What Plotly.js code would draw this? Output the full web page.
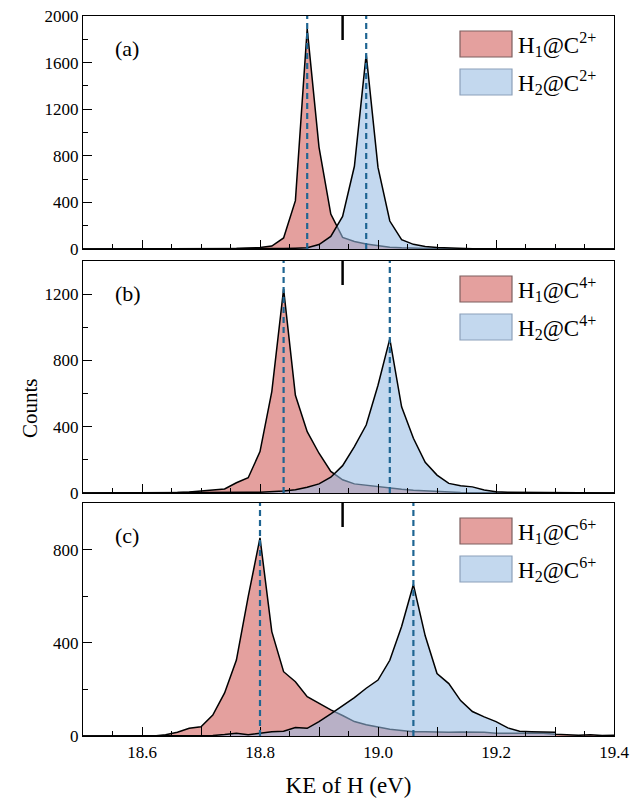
<!DOCTYPE html>
<html>
<head>
<meta charset="utf-8">
<script src="https://cdn.plot.ly/plotly-3.0.1.min.js"></script>
<style>html,body{margin:0;padding:0;background:#fff}#chart{width:641px;height:800px}</style>
</head>
<body>
<div id="chart"></div>
<script>
// ---- data ----
const energy = [18.50,18.52,18.54,18.56,18.58,18.60,18.62,18.64,18.66,18.68,
                18.70,18.72,18.74,18.76,18.78,18.80,18.82,18.84,18.86,18.88,
                18.90,18.92,18.94,18.96,18.98,19.00,19.02,19.04,19.06,19.08,
                19.10,19.12,19.14,19.16,19.18,19.20,19.22,19.24,19.26,19.28,
                19.30,19.32,19.34,19.36,19.38,19.40];

// panel (a)
const h1C2 = [0,0,0,0,0,0,0,0,0,1,
              1,2,3,5,8,12,25,95,415,1890,
              875,300,100,65,42,26,16,10,6,4,
              3,2,2,1,1,0,0,0,0,0,
              0,0,0,0,0,0];
const h2C2 = [0,0,0,0,0,0,0,0,0,0,
              0,1,1,2,2,3,4,5,7,10,
              38,108,280,710,1670,700,240,80,40,22,
              12,7,4,3,2,1,1,0,0,0,
              0,0,0,0,0,0];
// panel (b)
const h1C4 = [0,0,0,0,0,1,1,2,3,6,
              12,16,24,62,92,250,612,1230,590,370,
              240,130,80,55,46,38,28,22,16,12,
              8,5,3,2,1,0,0,0,0,0,
              0,0,0,0,0,0];
const h2C4 = [0,0,0,0,0,0,0,0,0,0,
              1,2,2,3,4,5,8,12,20,35,
              55,95,165,280,410,650,930,520,330,185,
              108,58,44,37,18,8,5,4,3,2,
              3,2,1,1,0,0];
// panel (c)
const h1C6 = [0,0,0,0,0,0,0,5,16,33,
              40,90,185,326,598,850,448,276,233,169,
              140,112,88,62,48,38,29,24,18,18,
              16,16,17,18,16,12,12,12,12,12,
              8,4,3,5,2,3];
const h2C6 = [0,0,0,0,0,0,0,0,0,0,
              0,2,6,12,5,12,18,20,36,33,
              62,95,130,165,205,240,325,470,650,430,
              268,225,152,105,82,62,35,20,18,17,
              16];

const peaksA = [18.88, 18.98];
const peaksB = [18.84, 19.02];
const peaksC = [18.80, 19.06];
const markerEnergy = 18.94;

const panelLabels = ['(a)', '(b)', '(c)'];
const legendH1 = ['H<sub>1</sub>@C<sup>2+</sup>', 'H<sub>1</sub>@C<sup>4+</sup>', 'H<sub>1</sub>@C<sup>6+</sup>'];
const legendH2 = ['H<sub>2</sub>@C<sup>2+</sup>', 'H<sub>2</sub>@C<sup>4+</sup>', 'H<sub>2</sub>@C<sup>6+</sup>'];

const xTickVals = [18.5, 18.6, 18.7, 18.8, 18.9, 19.0, 19.1, 19.2, 19.3, 19.4];
const xTickText = ['', '18.6', '', '18.8', '', '19.0', '', '19.2', '', '19.4'];
const yRanges = [[0, 2000], [0, 1400], [0, 1000]];

// ---- styling ----
const RED_FILL = 'rgb(228,160,158)';
const BLUE_FILL = 'rgba(152,188,228,0.58)';
const DASH_COLOR = '#1f6592';
const FONT = 'Liberation Serif';
const TICK_SIZE = 17;
const TITLE_SIZE = 23;

const panels = [
  {h1: h1C2, h2: h2C2, x2: energy, peaks: peaksA},
  {h1: h1C4, h2: h2C4, x2: energy, peaks: peaksB},
  {h1: h1C6, h2: h2C6, x2: energy.slice(0, h2C6.length), peaks: peaksC}
];
const domains = [[0.6764, 1], [0.3375, 0.6597], [0, 0.3236]];
const PLOT_W = 531;

const traces = [];
const shapes = [];
const annotations = [];
const layout = {
  width: 641, height: 800,
  margin: {l: 83, r: 27, t: 16, b: 64},
  showlegend: false,
  paper_bgcolor: '#fff', plot_bgcolor: '#fff',
  font: {family: FONT, size: TICK_SIZE, color: '#000'}
};

panels.forEach((p, i) => {
  const s = i === 0 ? '' : String(i + 1);
  const xa = 'x' + s, ya = 'y' + s;
  const panelH = (domains[i][1] - domains[i][0]) * 720;
  traces.push({
    x: energy, y: p.h1, xaxis: xa, yaxis: ya, type: 'scatter', mode: 'lines',
    fill: 'tozeroy', fillcolor: RED_FILL, line: {color: '#000', width: 1.5},
    name: legendH1[i], hoverinfo: 'x+y'
  });
  traces.push({
    x: p.x2, y: p.h2, xaxis: xa, yaxis: ya, type: 'scatter', mode: 'lines',
    fill: 'tozeroy', fillcolor: BLUE_FILL, line: {color: '#000', width: 1.5},
    name: legendH2[i], hoverinfo: 'x+y'
  });
  layout['xaxis' + s] = {
    anchor: ya, domain: [0, 1], range: [18.5, 19.4],
    tickmode: 'array', tickvals: xTickVals, ticktext: xTickText,
    ticks: 'inside', ticklen: 9, tickwidth: 1.3, tickcolor: '#000',
    minor: {dtick: 0.05, tick0: 18.5, ticks: 'inside', ticklen: 5, tickwidth: 1.2, tickcolor: '#000', showgrid: false},
    showticklabels: i === 2,
    tickfont: {family: FONT, size: TICK_SIZE, color: '#000'},
    showline: true, mirror: true, linecolor: '#000', linewidth: 1.4,
    showgrid: false, zeroline: false, fixedrange: true
  };
  layout['yaxis' + s] = {
    anchor: xa, domain: domains[i], range: yRanges[i],
    dtick: 400, tick0: 0,
    ticks: 'inside', ticklen: 9, tickwidth: 1.3, tickcolor: '#000',
    minor: {dtick: 200, ticks: 'inside', ticklen: 5, tickwidth: 1.2, tickcolor: '#000', showgrid: false},
    tickfont: {family: FONT, size: TICK_SIZE, color: '#000'},
    showline: true, mirror: true, linecolor: '#000', linewidth: 1.4,
    showgrid: false, zeroline: false, fixedrange: true
  };
  // dashed peak lines
  p.peaks.forEach(pk => {
    shapes.push({type: 'line', xref: xa, yref: ya + ' domain', x0: pk, x1: pk, y0: 0, y1: 1,
      line: {color: DASH_COLOR, width: 2.2, dash: '6px,4px'}, layer: 'above'});
  });
  // short marker line at top
  shapes.push({type: 'line', xref: xa, yref: ya + ' domain', x0: markerEnergy, x1: markerEnergy,
    y0: 1, y1: 1 - 24 / panelH, line: {color: '#000', width: 2.5}, layer: 'above'});
  // legend swatches
  const sx0 = (460 - 83) / PLOT_W, sx1 = (512 - 83) / PLOT_W;
  shapes.push({type: 'rect', xref: xa + ' domain', yref: ya + ' domain', x0: sx0, x1: sx1,
    y0: 1 - 41 / panelH, y1: 1 - 15 / panelH, fillcolor: RED_FILL,
    line: {color: 'rgb(125,95,95)', width: 1.2}, layer: 'above'});
  shapes.push({type: 'rect', xref: xa + ' domain', yref: ya + ' domain', x0: sx0, x1: sx1,
    y0: 1 - 79 / panelH, y1: 1 - 53 / panelH, fillcolor: 'rgb(195,216,238)',
    line: {color: 'rgb(140,160,185)', width: 1.2}, layer: 'above'});
  annotations.push({xref: xa + ' domain', yref: ya + ' domain', x: (516 - 83) / PLOT_W, y: 1 - 28 / panelH,
    xanchor: 'left', yanchor: 'middle', showarrow: false, text: legendH1[i],
    font: {family: FONT, size: 23, color: '#000'}});
  annotations.push({xref: xa + ' domain', yref: ya + ' domain', x: (516 - 83) / PLOT_W, y: 1 - 66 / panelH,
    xanchor: 'left', yanchor: 'middle', showarrow: false, text: legendH2[i],
    font: {family: FONT, size: 23, color: '#000'}});
  // panel label
  annotations.push({xref: xa + ' domain', yref: ya + ' domain', x: (113 - 83) / PLOT_W, y: 1 - 32 / panelH,
    xanchor: 'left', yanchor: 'middle', showarrow: false, text: panelLabels[i],
    font: {family: FONT, size: 22, color: '#000'}});
});

layout.xaxis3.title = {text: 'KE of H (eV)', font: {family: FONT, size: TITLE_SIZE, color: '#000'}, standoff: 16};
annotations.push({xref: 'paper', yref: 'paper', x: (30 - 83) / PLOT_W, y: (736 - 408) / 720,
  xanchor: 'center', yanchor: 'middle', textangle: -90, showarrow: false, text: 'Counts',
  font: {family: FONT, size: 21, color: '#000'}});

layout.shapes = shapes;
layout.annotations = annotations;

Plotly.newPlot('chart', traces, layout, {displayModeBar: false, responsive: false}).then(gd => {
  // make sure axis texts carry an explicit font family and size
  gd.querySelectorAll('.xtick text, .ytick text').forEach(t => {
    t.setAttribute('font-family', FONT);
    t.setAttribute('font-size', TICK_SIZE);
    t.style.fontFamily = FONT;
    t.style.fontSize = TICK_SIZE + 'px';
  });
  gd.querySelectorAll('text.xtitle, text.x3title, .g-x3title text').forEach(t => {
    t.setAttribute('font-family', FONT);
    t.setAttribute('font-size', TITLE_SIZE);
    t.style.fontFamily = FONT;
    t.style.fontSize = TITLE_SIZE + 'px';
  });
});
</script>
</body>
</html>
